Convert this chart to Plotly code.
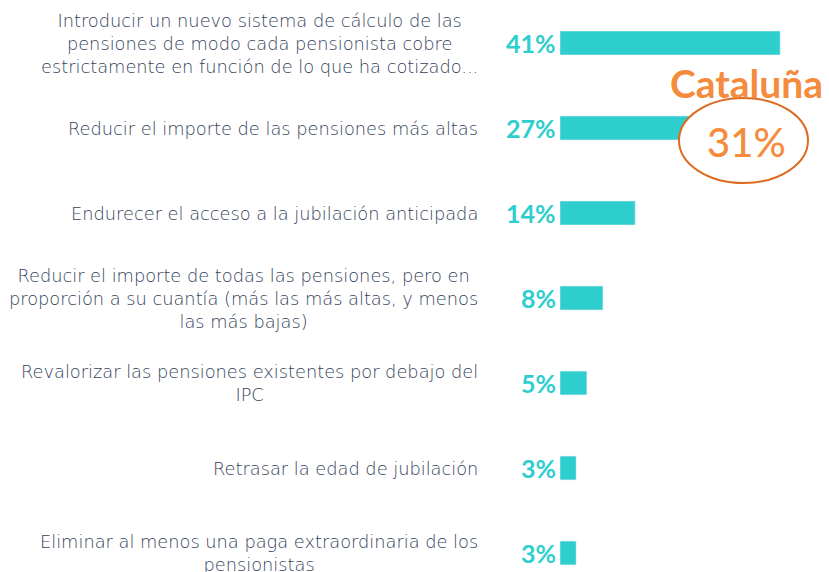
import plotly.graph_objects as go

categories = [
    "Introducir un nuevo sistema de cálculo de las<br>pensiones de modo cada pensionista cobre<br>estrictamente en función de lo que ha cotizado...",
    "Reducir el importe de las pensiones más altas",
    "Endurecer el acceso a la jubilación anticipada",
    "Reducir el importe de todas las pensiones, pero en<br>proporción a su cuantía (más las más altas, y menos<br>las más bajas)",
    "Revalorizar las pensiones existentes por debajo del<br>IPC",
    "Retrasar la edad de jubilación",
    "Eliminar al menos una paga extraordinaria de los<br>pensionistas",
]
values = [41, 27, 14, 8, 5, 3, 3]
value_labels = ["41%", "27%", "14%", "8%", "5%", "3%", "3%"]
highlight_region = "Cataluña"
highlight_value = "31%"

W, H = 829, 572
L = 560
PW = W - L
TEAL = "#2ecece"
TXT = "#33425b"
ORANGE = "#f58b3c"

idx = list(range(len(categories)))

fig = go.Figure(go.Bar(
    x=values, y=idx, orientation="h", marker_color=TEAL, width=0.28,
    hoverinfo="skip",
))

def px_x(p):
    return (p - L) / PW

def px_y(p):
    return 1 - p / H

for i, (c, lab) in enumerate(zip(categories, value_labels)):
    fig.add_annotation(x=px_x(480), y=i, xref="paper", yref="y", text=c,
                       xanchor="right", yanchor="middle", align="center", showarrow=False,
                       font=dict(family="DejaVu Sans", size=17.8, color=TXT, weight=300))
    fig.add_annotation(x=0, y=i, xref="paper", yref="y", text=lab, xshift=-2,
                       xanchor="right", yanchor="middle", showarrow=False,
                       font=dict(family="Lato", size=25, color=TEAL, weight="bold"))

fig.add_shape(type="circle", xref="paper", yref="paper",
              x0=px_x(679), x1=px_x(808), y0=px_y(183), y1=px_y(98),
              fillcolor="white", line=dict(color="#dd6a1f", width=2), layer="above")
fig.add_annotation(x=px_x(746), y=px_y(83), xref="paper", yref="paper", text=highlight_region,
                   xanchor="center", yanchor="middle", showarrow=False,
                   font=dict(family="Lato", size=39, color=ORANGE, weight="bold"))
fig.add_annotation(x=px_x(746), y=px_y(142), xref="paper", yref="paper", text=highlight_value,
                   xanchor="center", yanchor="middle", showarrow=False,
                   font=dict(family="Lato", size=40, color=ORANGE, weight=500))

fig.update_layout(
    width=W, height=H, margin=dict(l=L, r=0, t=0, b=0),
    paper_bgcolor="white", plot_bgcolor="white", showlegend=False,
    xaxis=dict(range=[0, PW / 5.37], visible=False, fixedrange=True),
    yaxis=dict(range=[(H - 43) / 85, -43 / 85], visible=False, fixedrange=True),
)
fig.write_html("out.html", config={"displayModeBar": False},
               post_script="document.body.style.margin='0';document.body.style.overflow='hidden';")
